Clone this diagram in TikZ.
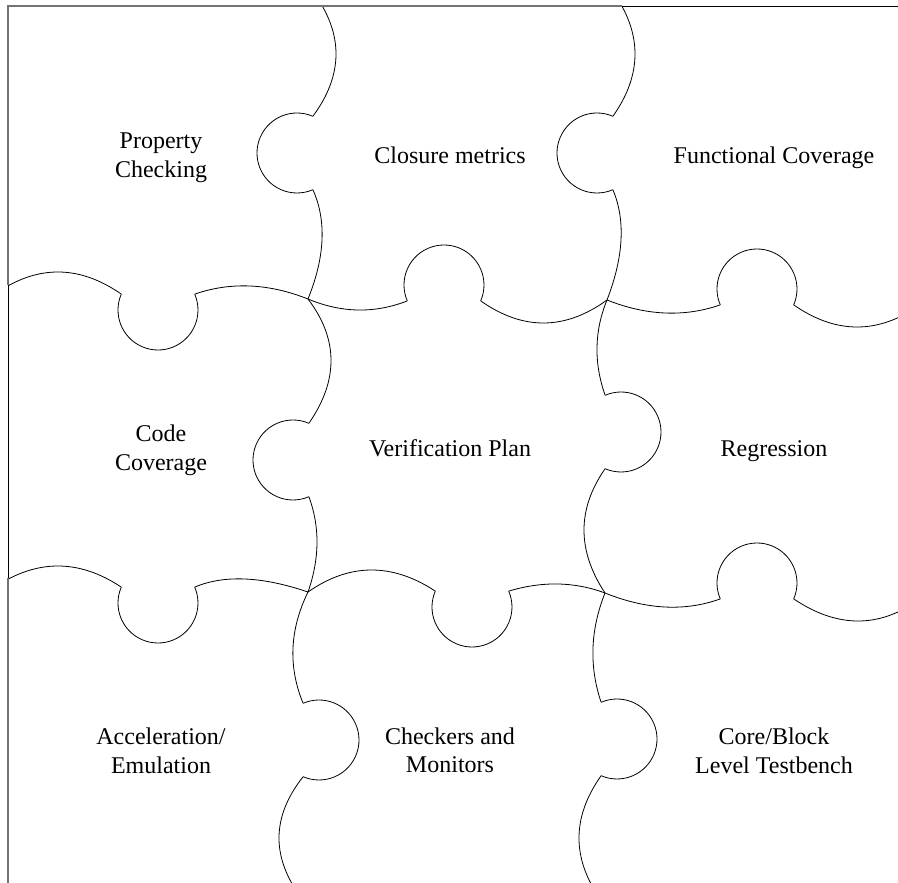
\documentclass[tikz,border=0pt]{standalone}
\usepackage{fontspec}
\setmainfont{Liberation Serif}
\usetikzlibrary{calc}

\tikzset{
  pzline/.style={draw=black, line width=0.8pt},
  frameg/.style={draw=black!55, line width=1.2pt},
  frameb/.style={draw=black, line width=0.9pt},
  lbl/.style={font=\fontsize{24}{28.5}\selectfont, align=center, anchor=base, inner sep=0pt}
}

% segment through three points: start, middle, end
\newcommand\pzseg[3]{%
  \path ($2*(#2)-0.5*(#1)-0.5*(#3)$) coordinate (pzq);
  \draw[pzline] (#1) .. controls ($(#1)!0.6667!(pzq)$) and ($(#3)!0.6667!(pzq)$) .. (#3);
}
% knob: name, centre, start angle, end angle
\newcommand\pzknob[4]{%
  \coordinate (#1) at (#2);
  \coordinate (#1a) at ($(#1)+(#3:40)$);
  \coordinate (#1b) at ($(#1)+(#4:40)$);
  \draw[pzline] (#1a) arc[start angle=#3, end angle=#4, radius=40];
}

\begin{document}
\begin{tikzpicture}[x=1pt,y=1pt]
\useasboundingbox (0,0) rectangle (898,-883);

\begin{scope}
\clip (8,-6) rectangle (898,-883);
% junctions
\coordinate (J1) at (308,-299);
\coordinate (J2) at (607,-300);
\coordinate (J3) at (308,-592);
\coordinate (J4) at (605,-593);
% knobs
\pzknob{K1}{297,-153}{66.6}{293.4}
\pzknob{K2}{158,-310}{156.6}{383.4}
\pzknob{K3}{293,-460}{66.6}{293.4}
\pzknob{K4}{158,-603}{156.6}{383.4}
\pzknob{K5}{319,-740}{113.4}{-113.4}
\pzknob{K6}{444,-285}{203.4}{-23.4}
\pzknob{K7}{597,-153}{66.6}{293.4}
\pzknob{K8}{757,-289}{203.4}{-23.4}
\pzknob{K9}{621,-432}{113.4}{-113.4}
\pzknob{K10}{472,-607}{156.6}{383.4}
\pzknob{K11}{757,-583}{203.4}{-23.4}
\pzknob{K12}{617,-739}{113.4}{-113.4}
% free ends outside the frame
\coordinate (T1) at (313,8);
\coordinate (T2) at (613,8);
\coordinate (B1) at (303,-900);
\coordinate (B2) at (601,-900);
\coordinate (L1) at (-5,-294);
\coordinate (L2) at (-5,-587);
\coordinate (R1) at (920,-305);
\coordinate (R2) at (920,-599);
% vertical boundaries
\pzseg{T1}{336,-54}{K1a}
\pzseg{K1b}{322,-240}{J1}
\pzseg{J1}{331,-360}{K3a}
\pzseg{K3b}{317,-543}{J3}
\pzseg{J3}{293,-648}{K5a}
\pzseg{K5b}{279,-838}{B1}
\pzseg{T2}{635,-54}{K7a}
\pzseg{K7b}{621,-240}{J2}
\pzseg{J2}{597,-347}{K9a}
\pzseg{K9b}{584,-530}{J4}
\pzseg{J4}{593,-648}{K12a}
\pzseg{K12b}{579,-838}{B2}
% horizontal boundaries
\pzseg{L1}{58,-272}{K2a}
\pzseg{K2b}{250,-286}{J1}
\pzseg{J1}{358,-310}{K6a}
\pzseg{K6b}{544,-323}{J2}
\pzseg{J2}{665,-313}{K8a}
\pzseg{K8b}{857,-327}{R1}
\pzseg{L2}{58,-566}{K4a}
\pzseg{K4b}{245,-579}{J3}
\pzseg{J3}{371,-570}{K10a}
\pzseg{K10b}{558,-584}{J4}
\pzseg{J4}{665,-607}{K11a}
\pzseg{K11b}{858,-621}{R2}
\end{scope}

% frame
\coordinate (F1) at (8,-883);
\coordinate (F2) at (8,-578);
\coordinate (F3) at (8,-285);
\coordinate (F4) at (8,-6);
\coordinate (F5) at (622,-6);
\coordinate (F6) at (898,-6);
\draw[frameg] (F1) -- (F2);
\draw[frameb] (F2) -- (F3);
\draw[frameg] (F3) -- (F4) -- (F5);
\draw[frameb] (F5) -- (F6);

% labels (base = baseline of the last line)
\node[lbl] (pc) at (161,-177.5) {Property\\Checking};
\node[lbl] (cm) at (450,-163) {Closure metrics};
\node[lbl] (fc) at (774,-163) {Functional Coverage};
\node[lbl] (cc) at (161,-470) {Code\\Coverage};
\node[lbl] (vp) at (450,-456) {Verification Plan};
\node[lbl] (rg) at (774,-456) {Regression};
\node[lbl] (ae) at (161,-773) {Acceleration/\\Emulation};
\node[lbl] (ch) at (450,-772.5) {Checkers and\\Monitors};
\node[lbl] (cb) at (774,-773) {Core/Block\\Level Testbench};
\end{tikzpicture}
\end{document}
